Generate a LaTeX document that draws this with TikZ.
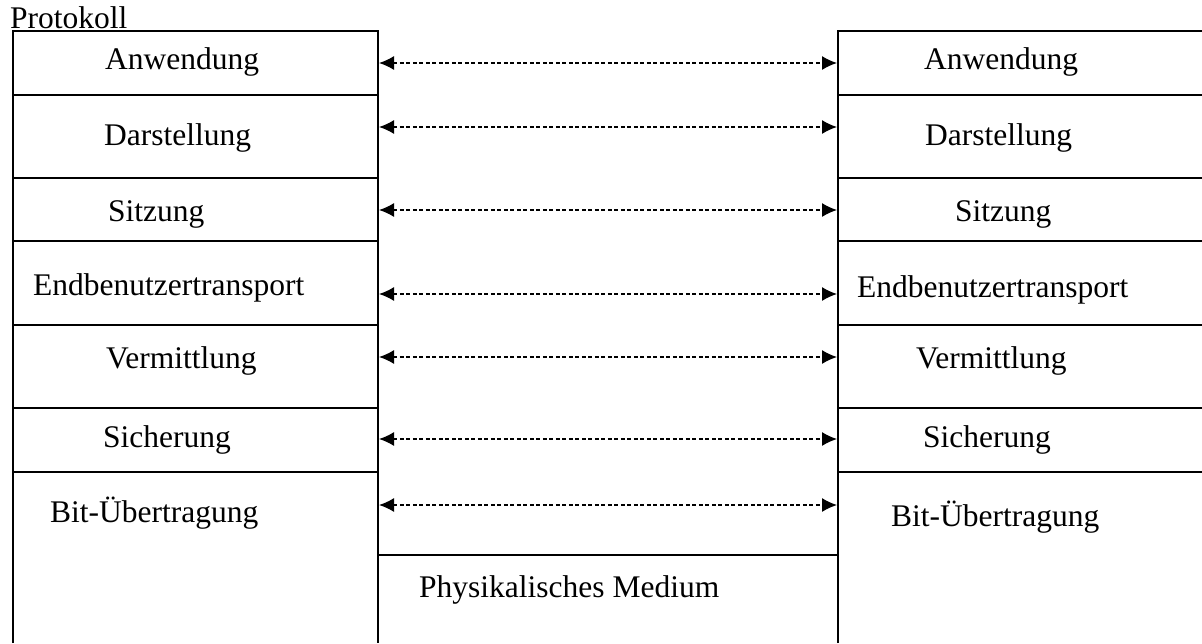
\documentclass[tikz,border=0pt]{standalone}
\usepackage{fontspec}
\setmainfont{Liberation Serif}
\usetikzlibrary{arrows.meta}
\begin{document}
\begin{tikzpicture}[x=1pt,y=-1pt,
  frame/.style={line width=2.4pt},
  lbl/.style={anchor=base west,inner sep=0pt,font=\fontsize{31.5}{38}\selectfont},
  link/.style={line width=1.4pt,dash pattern=on 4pt off 2.5pt,
    {Latex[length=15pt,width=14pt]}-{Latex[length=15pt,width=14pt]}}]
\useasboundingbox (0,0) rectangle (1202,643);
\fill[white] (0,0) rectangle (1202,643);
% left stack
\draw[frame] (13,643) -- (13,31) -- (378,31) -- (378,643);
\foreach \y in {95,178,241,325,408,472} \draw[frame] (13,\y) -- (378,\y);
% right stack
\draw[frame] (838,643) -- (838,31) -- (1202,31);
\foreach \y in {95,178,241,325,408,472} \draw[frame] (838,\y) -- (1202,\y);
% physical medium
\draw[frame] (378,555) -- (838,555);
% title
\node[lbl] (title) at (10,28) {Protokoll};
% left labels
\node[lbl] (l1) at (105,69) {Anwendung};
\node[lbl] (l2) at (104,145) {Darstellung};
\node[lbl] (l3) at (108,221) {Sitzung};
\node[lbl] (l4) at (33,295) {Endbenutzertransport};
\node[lbl] (l5) at (106,368) {Vermittlung};
\node[lbl] (l6) at (103,447) {Sicherung};
\node[lbl] (l7) at (50,522) {Bit-Übertragung};
% right labels
\node[lbl] (r1) at (924,69) {Anwendung};
\node[lbl] (r2) at (925,145) {Darstellung};
\node[lbl] (r3) at (955,221) {Sitzung};
\node[lbl] (r4) at (857,297) {Endbenutzertransport};
\node[lbl] (r5) at (916,368) {Vermittlung};
\node[lbl] (r6) at (923,447) {Sicherung};
\node[lbl] (r7) at (891,526) {Bit-Übertragung};
% medium label
\node[lbl] (med) at (419,597) {Physikalisches Medium};
% peer protocol arrows
\foreach \i/\y in {1/63,2/127,3/210,4/294,5/357,6/439,7/505}{
  \coordinate (aL\i) at (379,\y);
  \coordinate (aR\i) at (837,\y);
  \draw[link] (aL\i) -- (aR\i);
}
\end{tikzpicture}
\end{document}
